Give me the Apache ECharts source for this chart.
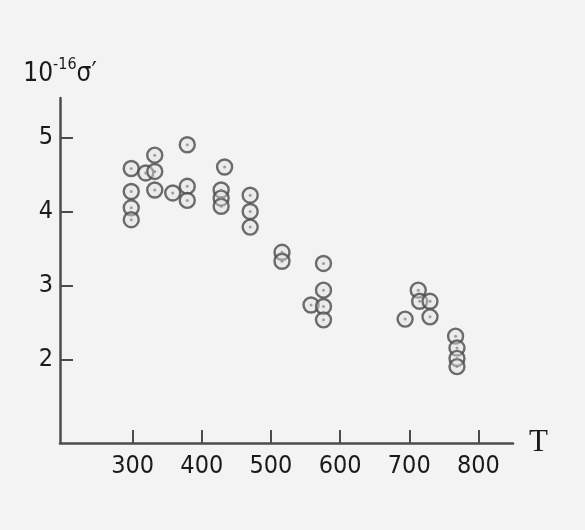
<!DOCTYPE html>
<html>
<head>
<meta charset="utf-8">
<script src="https://cdn.jsdelivr.net/npm/echarts@6/dist/echarts.min.js"></script>
<style>
html,body{margin:0;padding:0;background:#f3f3f3;}
#chart{width:585px;height:530px;}
</style>
</head>
<body>
<div id="chart"></div>
<script>
// Temperature T and 10^-16 sigma' values
const tValues = [298, 298, 298, 298, 319, 332, 332, 332, 358, 379, 379, 379,
                 433, 428, 428, 428, 470, 470, 470, 516, 516,
                 576, 576, 558, 576, 576,
                 713, 715, 730, 730, 694,
                 767, 769, 769, 769];
const sigmaValues = [4.58, 4.27, 4.05, 3.89, 4.52, 4.76, 4.54, 4.29, 4.25, 4.90, 4.34, 4.15,
                     4.60, 4.29, 4.18, 4.07, 4.22, 4.00, 3.79, 3.45, 3.33,
                     3.30, 2.94, 2.74, 2.72, 2.54,
                     2.94, 2.79, 2.79, 2.58, 2.55,
                     2.32, 2.16, 2.02, 1.91];
const xTickLabels = [300, 400, 500, 600, 700, 800];
const yTickLabels = [2, 3, 4, 5];

const points = tValues.map((t, i) => [t, sigmaValues[i]]);
const FONT = '"Liberation Sans Narrow", "DejaVu Sans Condensed", "Noto Sans", sans-serif';
const axisColor = '#4c4c4c';

const chart = echarts.init(document.getElementById('chart'), null, {renderer: 'canvas'});
chart.setOption({
  backgroundColor: '#f3f3f3',
  animation: false,
  grid: {left: 60, right: 72, top: 98, bottom: 87},
  xAxis: {
    type: 'value',
    min: 195, max: 850,
    splitLine: {show: false},
    axisLine: {show: true, lineStyle: {color: axisColor, width: 2.5}},
    axisTick: {show: true, inside: true, length: 13, customValues: xTickLabels,
               lineStyle: {color: axisColor, width: 2}},
    axisLabel: {customValues: xTickLabels, margin: 11, color: '#1a1a1a',
                fontFamily: FONT, fontSize: 25},
    name: 'T',
    nameLocation: 'end',
    nameGap: 16,
    nameTextStyle: {fontFamily: '"Liberation Serif", "DejaVu Serif", serif', fontSize: 31,
                    color: '#1a1a1a', verticalAlign: 'middle', padding: [0, 0, 0, 0]}
  },
  yAxis: {
    type: 'value',
    min: 0.88, max: 5.53,
    splitLine: {show: false},
    axisLine: {show: true, lineStyle: {color: axisColor, width: 2.5}},
    axisTick: {show: true, inside: true, length: 13, customValues: yTickLabels,
               lineStyle: {color: axisColor, width: 2}},
    axisLabel: {customValues: yTickLabels, margin: 7, color: '#1a1a1a',
                fontFamily: FONT, fontSize: 25},
    name: '{a|10}{b|-16}{a|σ′}',
    nameLocation: 'end',
    nameGap: 11,
    nameTextStyle: {
      align: 'center',
      rich: {
        a: {fontFamily: FONT, fontSize: 26, color: '#1a1a1a', verticalAlign: 'bottom', lineHeight: 30},
        b: {fontFamily: FONT, fontSize: 16, color: '#1a1a1a', verticalAlign: 'top', lineHeight: 30}
      }
    }
  },
  series: [
    {
      type: 'scatter',
      data: points,
      symbol: 'circle',
      symbolSize: 15,
      itemStyle: {color: 'rgba(225,225,225,0.55)', borderColor: '#4a4a4a', borderWidth: 2.4}
    },
    {
      type: 'scatter',
      data: points,
      symbol: 'circle',
      symbolSize: 3,
      silent: true,
      itemStyle: {color: '#8a8a8a'}
    }
  ]
});
</script>
</body>
</html>
